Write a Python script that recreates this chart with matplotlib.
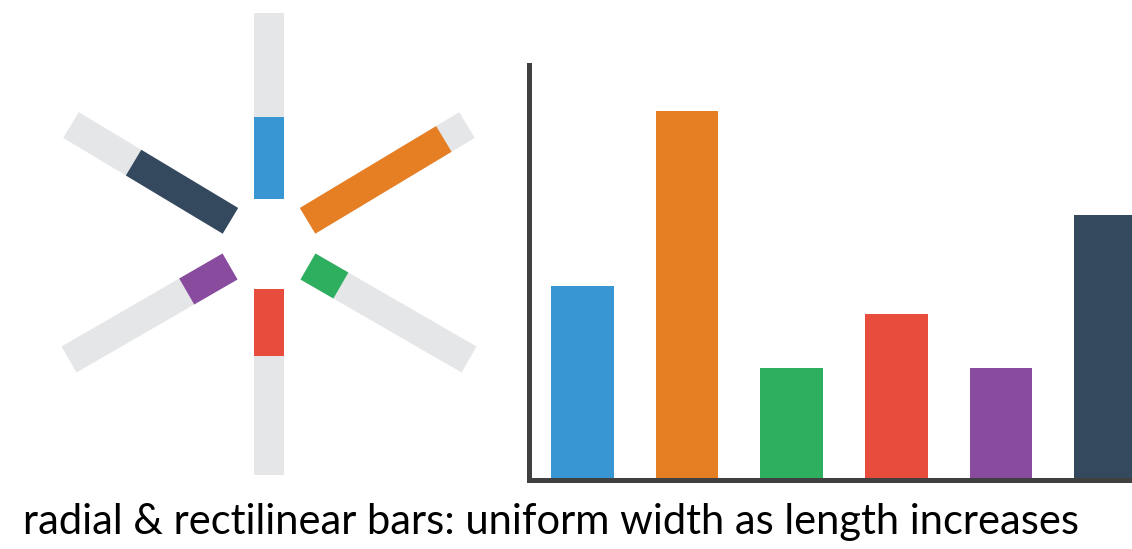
"""
Radial vs rectilinear bars: the same six values drawn as spokes
around a hub and as an ordinary bar chart.
"""

import numpy as np
import matplotlib
matplotlib.use('Agg')
import matplotlib.pyplot as plt


# ============================================================
#  Data
# ============================================================

categories = ['blue', 'orange', 'green', 'red', 'purple', 'navy']
bar_values = [35.3, 67.2, 20.4, 30.3, 20.4, 48.3]

# spoke lengths (px) and directions (deg, clockwise from top) of the radial version
radial_lengths = [82, 159, 38, 67, 50, 113]
radial_angles = [90, 31, -30, -90, -150, 149]

colors = ['#3897d3', '#e67f24', '#2eae5f', '#e74c3c', '#884b9d', '#34495e']

caption = 'radial & rectilinear bars: uniform width as length increases'


# ============================================================
#  Layout (pixel based, figure is 1132 x 549)
# ============================================================

W, H = 1132, 549
DPI = 100
px = 72.0 / DPI                     # points per pixel

hub_x, hub_y = 269, 244             # centre of the radial chart
r_inner, r_outer = 45, 231          # start of the spokes / end of the grey tracks
spoke_w = 30 * px

track_color = '#e5e6e8'
axis_color = '#404040'

fig = plt.figure(figsize=(W / DPI, H / DPI), dpi=DPI)

# ------ radial bars ------
half = 250
ax_r = fig.add_axes([(hub_x - half) / W, (H - hub_y - half) / H,
                     2 * half / W, 2 * half / H])
ax_r.set_xlim(-half, half)
ax_r.set_ylim(-half, half)
ax_r.axis('off')

for length, ang, c in zip(radial_lengths, radial_angles, colors):
    ux, uy = np.cos(np.radians(ang)), np.sin(np.radians(ang))
    ax_r.plot([r_inner * ux, r_outer * ux], [r_inner * uy, r_outer * uy],
              color=track_color, lw=spoke_w, solid_capstyle='butt', zorder=1)
    r_end = r_inner + length
    ax_r.plot([r_inner * ux, r_end * ux], [r_inner * uy, r_end * uy],
              color=c, lw=spoke_w, solid_capstyle='butt', zorder=2)

# ------ rectilinear bars ------
left_px, base_px, top_px = 528.5, 480.4, 65.2
ax_b = fig.add_axes([left_px / W, (H - base_px) / H,
                     (W - left_px) / W, (base_px - top_px) / H])

x = np.arange(len(bar_values))
ax_b.bar(x, bar_values, width=0.6, color=colors, zorder=1)
ax_b.set_xlim(-0.516, 5.253)
ax_b.set_ylim(0, (base_px - top_px) / 5.5)

for side in ('top', 'right'):
    ax_b.spines[side].set_visible(False)
for side in ('left', 'bottom'):
    sp = ax_b.spines[side]
    sp.set_color(axis_color)
    sp.set_linewidth(5 * px)
    sp.set_capstyle('projecting')
    sp.set_zorder(3)
ax_b.set_xticks([])
ax_b.set_yticks([])

# ------ caption ------
fig.text(22.7 / W, (H - 534.3) / H, caption, fontsize=30,
         family='Lato', color='black', ha='left', va='baseline')

fig.savefig('out.png', dpi=DPI)
